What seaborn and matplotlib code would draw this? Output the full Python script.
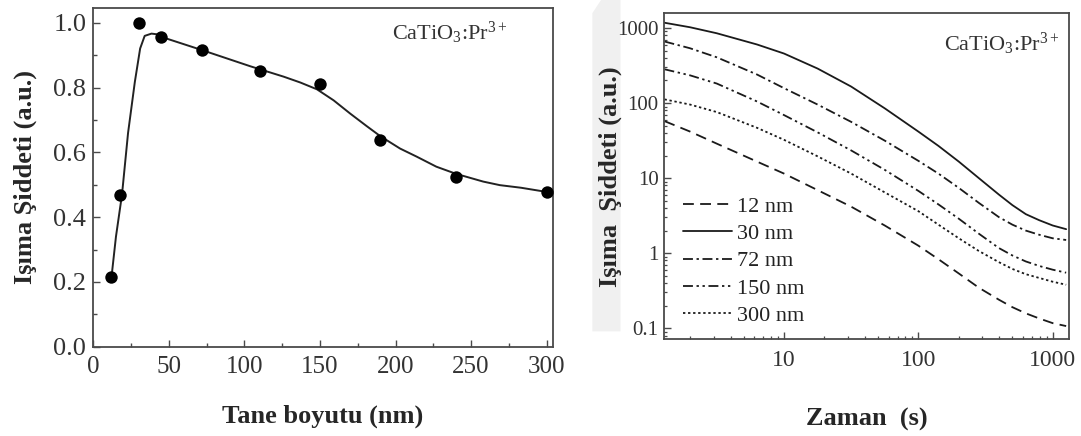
import numpy as np
import pandas as pd
import matplotlib
matplotlib.use("Agg")
import matplotlib.pyplot as plt
import matplotlib.ticker as mticker
from matplotlib.patches import Polygon
import seaborn as sns

# ---------------- data: left panel ----------------
size_nm = [12, 18, 30, 45, 72, 110, 150, 190, 240, 300]
intensity = [0.215, 0.47, 1.0, 0.957, 0.916, 0.851, 0.81, 0.638, 0.524, 0.478]

fit_x = [12, 15, 19, 23, 27.5, 31, 34, 38.5, 42, 45, 72, 104, 126, 137, 148, 159, 170, 181,
         190, 203, 214, 227, 240, 258, 269, 283, 300]
fit_y = [0.213, 0.34, 0.47, 0.66, 0.818, 0.921, 0.96, 0.967, 0.965, 0.957, 0.916, 0.866, 0.834,
         0.816, 0.795, 0.761, 0.72, 0.681, 0.65, 0.612, 0.587, 0.556, 0.534, 0.51, 0.499, 0.491, 0.478]

# ---------------- data: right panel ----------------
time_s = [1.29, 2.0, 3.16, 6.3, 10, 17.8, 31.6, 56.2, 100, 141, 200, 282, 398, 501, 631, 794, 1000, 1259]
decay_12 = [57.5, 41.7, 28.8, 16.6, 11.5, 6.92, 4.17, 2.34, 1.26, 0.832, 0.537, 0.347, 0.240,
            0.191, 0.158, 0.135, 0.117, 0.107]
decay_30 = [1175, 1023, 851, 603, 457, 288, 166, 85.1, 41.7, 26.9, 16.6, 10.0, 6.03,
            4.37, 3.31, 2.75, 2.34, 2.09]
decay_72 = [661, 537, 407, 240, 158, 95.5, 56.2, 31.6, 17.0, 11.5, 7.41, 4.68, 3.02,
            2.40, 2.00, 1.76, 1.58, 1.50]
decay_150 = [282, 234, 182, 105, 69.2, 40.7, 23.4, 12.9, 6.76, 4.47, 2.88, 1.82, 1.17,
             0.933, 0.776, 0.676, 0.603, 0.550]
decay_300 = [112, 95.5, 75.9, 46.8, 32.4, 19.5, 11.5, 6.46, 3.63, 2.40, 1.58, 1.07, 0.759,
             0.617, 0.525, 0.468, 0.417, 0.380]
series_labels = ["12 nm", "30 nm", "72 nm", "150 nm", "300 nm"]

# ---------------- style ----------------
sns.set_theme(style="ticks")
plt.rcParams["font.family"] = ["Liberation Serif", "DejaVu Serif"]
plt.rcParams["mathtext.fontset"] = "custom"
plt.rcParams["mathtext.rm"] = "Liberation Serif"
plt.rcParams["mathtext.it"] = "Liberation Serif:italic"
plt.rcParams["mathtext.bf"] = "Liberation Serif:bold"

spine_col = "#4a4a4a"
tick_col = "#333333"

fig = plt.figure(figsize=(10.81, 4.36), dpi=100)

# faint watermark band between the panels (behind everything)
band = Polygon([[0.548, 0.24], [0.574, 0.24], [0.574, 1.0], [0.556, 1.0], [0.548, 0.97]],
               closed=True, transform=fig.transFigure, facecolor="#f0f0f0", edgecolor="none", zorder=-5)
fig.patches.append(band)

ax1 = fig.add_axes([0.0863, 0.2048, 0.4250, 0.7775])
ax2 = fig.add_axes([0.6145, 0.2218, 0.3744, 0.7477])
ax1.patch.set_alpha(0)
ax2.patch.set_alpha(0)

# ---- left panel ----
sns.lineplot(x=fit_x, y=fit_y, ax=ax1, color="#222222", linewidth=1.4, sort=False, estimator=None)
sns.scatterplot(x=size_nm, y=intensity, ax=ax1, color="black", s=80, edgecolor="black", linewidth=0, zorder=3)
ax1.set_xlim(0, 304)
ax1.set_ylim(0, 1.047)
ax1.xaxis.set_major_locator(mticker.MultipleLocator(50))
ax1.xaxis.set_minor_locator(mticker.MultipleLocator(25))
ax1.yaxis.set_major_locator(mticker.MultipleLocator(0.2))
ax1.yaxis.set_minor_locator(mticker.MultipleLocator(0.1))
ax1.yaxis.set_major_formatter(mticker.FormatStrFormatter("%.1f"))
ax1.tick_params(axis="x", which="major", direction="in", length=5, width=1.0,
                color=spine_col, labelsize=18, labelcolor=tick_col, pad=7)
ax1.tick_params(axis="y", which="major", direction="in", length=5, width=1.0,
                color=spine_col, labelsize=19, labelcolor=tick_col, pad=5)
ax1.tick_params(axis="both", which="minor", direction="in", length=3, width=1.0, color=spine_col)
ax1.set_xlabel("Tane boyutu (nm)", fontsize=19, fontweight="bold", labelpad=19)
ax1.set_ylabel("Işıma Şiddeti (a.u.)", fontsize=19, fontweight="bold")
ax1.yaxis.set_label_coords(-0.1226, 0.5)
ax1.text(0.90, 0.925, r"CaTiO$_3$:Pr$^{3+}$", transform=ax1.transAxes, ha="right", va="center",
         fontsize=16, color="#333333")

# ---- right panel ----
styles = {
    "12 nm": (0, (6, 3.5)),
    "30 nm": "-",
    "72 nm": (0, (5.5, 2, 1.3, 2)),
    "150 nm": (0, (5.5, 2, 1.3, 2, 1.3, 2)),
    "300 nm": (0, (1.3, 1.5)),
}
decays = [decay_12, decay_30, decay_72, decay_150, decay_300]
for lab, vals in zip(series_labels, decays):
    sns.lineplot(x=time_s, y=vals, ax=ax2, color="#1a1a1a", linewidth=1.3,
                 linestyle=styles[lab], label=lab, sort=False, estimator=None)
ax2.set_xscale("log")
ax2.set_yscale("log")
ax2.set_xlim(1.285, 1322)
ax2.set_ylim(0.0713, 1570)
ax2.xaxis.set_major_locator(mticker.FixedLocator([10, 100, 1000]))
ax2.xaxis.set_major_formatter(mticker.FixedFormatter(["10", "100", "1000"]))
ax2.yaxis.set_major_locator(mticker.FixedLocator([0.1, 1, 10, 100, 1000]))
ax2.yaxis.set_major_formatter(mticker.FixedFormatter(["0.1", "1", "10", "100", "1000"]))
ax2.xaxis.set_minor_locator(mticker.LogLocator(base=10, subs=np.arange(2, 10)))
ax2.yaxis.set_minor_locator(mticker.LogLocator(base=10, subs=np.arange(2, 10)))
ax2.xaxis.set_minor_formatter(mticker.NullFormatter())
ax2.yaxis.set_minor_formatter(mticker.NullFormatter())
ax2.tick_params(axis="x", which="major", direction="in", length=5, width=1.0,
                color=spine_col, labelsize=17, labelcolor=tick_col, pad=8)
ax2.tick_params(axis="y", which="major", direction="in", length=5, width=1.0,
                color=spine_col, labelsize=15, labelcolor=tick_col, pad=4)
ax2.tick_params(axis="both", which="minor", direction="in", length=2.5, width=0.9, color=spine_col)
ax2.set_xlabel("Zaman  (s)", fontsize=19, fontweight="bold", labelpad=26)
ax2.set_ylabel("Işıma  Şiddeti (a.u.)", fontsize=19, fontweight="bold")
ax2.yaxis.set_label_coords(-0.1045, 0.5)
ax2.text(0.975, 0.905, r"CaTiO$_3$:Pr$^{3+}$", transform=ax2.transAxes, ha="right", va="center",
         fontsize=16, color="#333333")
leg = ax2.legend(loc="lower left", bbox_to_anchor=(0.046, 0.041), frameon=False, fontsize=16,
                 handlelength=2.2, handletextpad=0.25, labelspacing=0.3, borderaxespad=0.0,
                 borderpad=0.0)
for t in leg.get_texts():
    t.set_color("#222222")

for ax in (ax1, ax2):
    for sp in ax.spines.values():
        sp.set_visible(True)
        sp.set_color(spine_col)
        sp.set_linewidth(1.3)

fig.savefig("out.png", dpi=100)
